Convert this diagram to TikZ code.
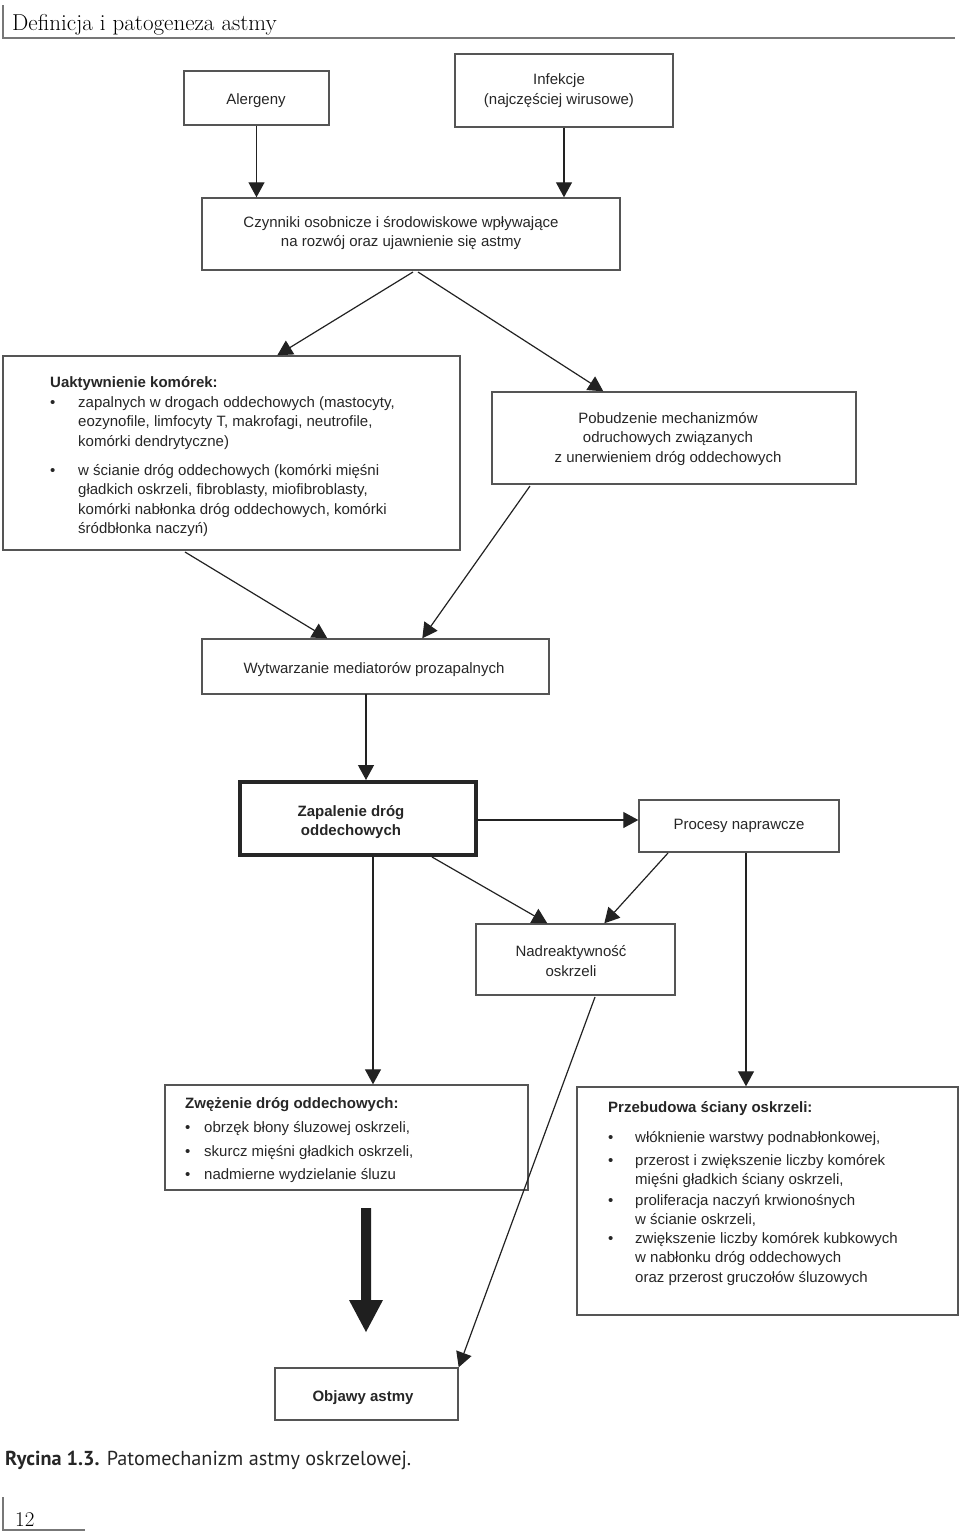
\documentclass[tikz,border=0pt]{standalone}
\usepackage{fontspec}
\newfontfamily\boxfont{Liberation Sans}
\newfontfamily\capfont{PT Sans}
\usetikzlibrary{arrows.meta,calc}
\definecolor{boxgray}{HTML}{555555}
\definecolor{linegray}{HTML}{222222}
\definecolor{rulegray}{HTML}{777777}
\begin{document}
\begin{tikzpicture}[x=1pt,y=-1pt,
  box/.style={draw=boxgray,line width=1.4pt,rectangle,inner sep=0pt},
  thickbox/.style={draw=black!85,line width=4pt,rectangle,inner sep=0pt},
  btxt/.style={font=\boxfont\fontsize{15}{19.5}\selectfont,inner sep=0pt,align=center,text=black!85},
  ltxt/.style={font=\boxfont\fontsize{15}{19.5}\selectfont,inner sep=0pt,align=left,anchor=base west,text=black!85},
  bold/.style={font=\boxfont\bfseries\fontsize{15}{19.5}\selectfont},
  conn/.style={draw=linegray,line width=1.2pt,-{Triangle[width=16pt,length=15pt]}},
  rulel/.style={draw=rulegray,line width=1.5pt}
]
\useasboundingbox (0,0) rectangle (960,1532);

% header and footer
\draw[rulel] (3,5) -- (3,38) -- (955,38);
\node[anchor=base west,inner sep=0pt,font=\fontsize{23}{26}\selectfont] (hdr) at (12,30) {Definicja i patogeneza astmy};
\draw[rulel] (3,1497) -- (3,1530) -- (85,1530);
\node[anchor=base west,inner sep=0pt,font=\fontsize{21}{24}\selectfont] (pg) at (15,1526) {12};
\node[anchor=base west,inner sep=0pt,font=\capfont\fontsize{20.2}{24}\selectfont,text=black!85] (cap) at (5,1465) {\textbf{Rycina 1.3.} Patomechanizm astmy oskrzelowej.};

% boxes
\node[box,minimum width=145pt,minimum height=54pt] (aler) at (256.5,98) {};
\node[box,minimum width=218pt,minimum height=73pt] (inf) at (564,90.5) {};
\node[box,minimum width=418pt,minimum height=72pt] (czy) at (411,234) {};
\node[box,minimum width=457pt,minimum height=194pt] (uak) at (231.5,453) {};
\node[box,minimum width=364pt,minimum height=92pt] (pob) at (674,438) {};
\node[box,minimum width=347pt,minimum height=55pt] (wyt) at (375.5,666.5) {};
\node[thickbox,minimum width=236pt,minimum height=73pt] (zap) at (358,818.5) {};
\node[box,minimum width=200pt,minimum height=52pt] (proc) at (739,826) {};
\node[box,minimum width=199pt,minimum height=71pt] (nad) at (575.5,959.5) {};
\node[box,minimum width=363pt,minimum height=105pt] (zwe) at (346.5,1137.5) {};
\node[box,minimum width=381pt,minimum height=228pt] (prz) at (767.5,1201) {};
\node[box,minimum width=183pt,minimum height=52pt] (obj) at (366.5,1394) {};

% texts
\node[btxt] (t-aler) at (256,100.5) {Alergeny};
\node[btxt] (t-inf) at (559,90.5) {Infekcje\\(najczęściej wirusowe)};
\node[btxt] (t-czy) at (401,233) {Czynniki osobnicze i środowiskowe wpływające\\na rozwój oraz ujawnienie się astmy};
\node[btxt] (t-pob) at (668,439) {Pobudzenie mechanizmów\\odruchowych związanych\\z unerwieniem dróg oddechowych};
\node[btxt] (t-wyt) at (374,669.5) {Wytwarzanie mediatorów prozapalnych};
\node[btxt,font=\boxfont\bfseries\fontsize{15}{19.5}\selectfont] (t-zap) at (351,822) {Zapalenie dróg\\oddechowych};
\node[btxt] (t-proc) at (739,826) {Procesy naprawcze};
\node[btxt] (t-nad) at (571,961) {Nadreaktywność\\oskrzeli};
\node[btxt,font=\boxfont\bfseries\fontsize{15}{19.5}\selectfont] (t-obj) at (363,1397.5) {Objawy astmy};

% Uaktywnienie (base anchor = last line baseline)
\node[ltxt,bold] (u-t) at (50,387) {Uaktywnienie komórek:};
\node[ltxt] (u-b1) at (50,407) {\textbullet};
\node[ltxt] (u-1) at (78,446) {zapalnych w drogach oddechowych (mastocyty,\\eozynofile, limfocyty T, makrofagi, neutrofile,\\komórki dendrytyczne)};
\node[ltxt] (u-b2) at (50,475) {\textbullet};
\node[ltxt] (u-2) at (78,533.5) {w ścianie dróg oddechowych (komórki mięśni\\gładkich oskrzeli, fibroblasty, miofibroblasty,\\komórki nabłonka dróg oddechowych, komórki\\śródbłonka naczyń)};

% Zwezenie
\node[ltxt,bold] (z-t) at (185,1108) {Zwężenie dróg oddechowych:};
\node[ltxt] (z-b1) at (185,1132) {\textbullet};
\node[ltxt] (z-1) at (204,1132) {obrzęk błony śluzowej oskrzeli,};
\node[ltxt] (z-b2) at (185,1156) {\textbullet};
\node[ltxt] (z-2) at (204,1156) {skurcz mięśni gładkich oskrzeli,};
\node[ltxt] (z-b3) at (185,1179) {\textbullet};
\node[ltxt] (z-3) at (204,1179) {nadmierne wydzielanie śluzu};

% Przebudowa
\node[ltxt,bold] (p-t) at (608,1112) {Przebudowa ściany oskrzeli:};
\node[ltxt] (p-b1) at (608,1142) {\textbullet};
\node[ltxt] (p-1) at (635,1142) {włóknienie warstwy podnabłonkowej,};
\node[ltxt] (p-b2) at (608,1165) {\textbullet};
\node[ltxt] (p-2) at (635,1184.5) {przerost i zwiększenie liczby komórek\\mięśni gładkich ściany oskrzeli,};
\node[ltxt] (p-b3) at (608,1205) {\textbullet};
\node[ltxt] (p-3) at (635,1224.5) {proliferacja naczyń krwionośnych\\w ścianie oskrzeli,};
\node[ltxt] (p-b4) at (608,1243) {\textbullet};
\node[ltxt] (p-4) at (635,1282) {zwiększenie liczby komórek kubkowych\\w nabłonku dróg oddechowych\\oraz przerost gruczołów śluzowych};

% connector start points
\coordinate (s-czl) at (413,272);
\coordinate (s-czr) at (418,272);
\coordinate (s-uak) at (185,552);
\coordinate (s-pob) at (530,486);
\coordinate (s-wyt) at (366,694);
\coordinate (s-zapn) at (432,857);
\coordinate (s-proc) at (668,853);
\coordinate (s-zapd) at (373,857);
\coordinate (s-procd) at (746,853);
\coordinate (s-nad) at (595,997);
\coordinate (s-zapr) at (476,820);

% connectors
\draw[conn] (aler.south) -- (aler.south |- czy.north);
\draw[conn] (inf.south) -- (inf.south |- czy.north);
\draw[conn] (s-czl) -- ($(uak.north west)+(275,0)$);
\draw[conn] (s-czr) -- ($(pob.north west)+(112,0)$);
\draw[conn] (s-uak) -- ($(wyt.north west)+(126,0)$);
\draw[conn] (s-pob) -- ($(wyt.north west)+(221,0)$);
\draw[conn] (s-wyt) -- (s-wyt |- zap.north);
\draw[conn] (s-zapr) -- (s-zapr -| proc.west);
\draw[conn] (s-zapn) -- ($(nad.north west)+(72,0)$);
\draw[conn] (s-proc) -- ($(nad.north west)+(129,0)$);
\draw[conn] (s-zapd) -- (s-zapd |- zwe.north);
\draw[conn] (s-procd) -- (s-procd |- prz.north);
\draw[conn] (s-nad) -- (obj.north east);

% thick arrow
\fill[black!88] (361,1208) -- (371,1208) -- (371,1300) -- (383,1300) -- (366,1332) -- (349,1300) -- (361,1300) -- cycle;
\end{tikzpicture}
\end{document}
